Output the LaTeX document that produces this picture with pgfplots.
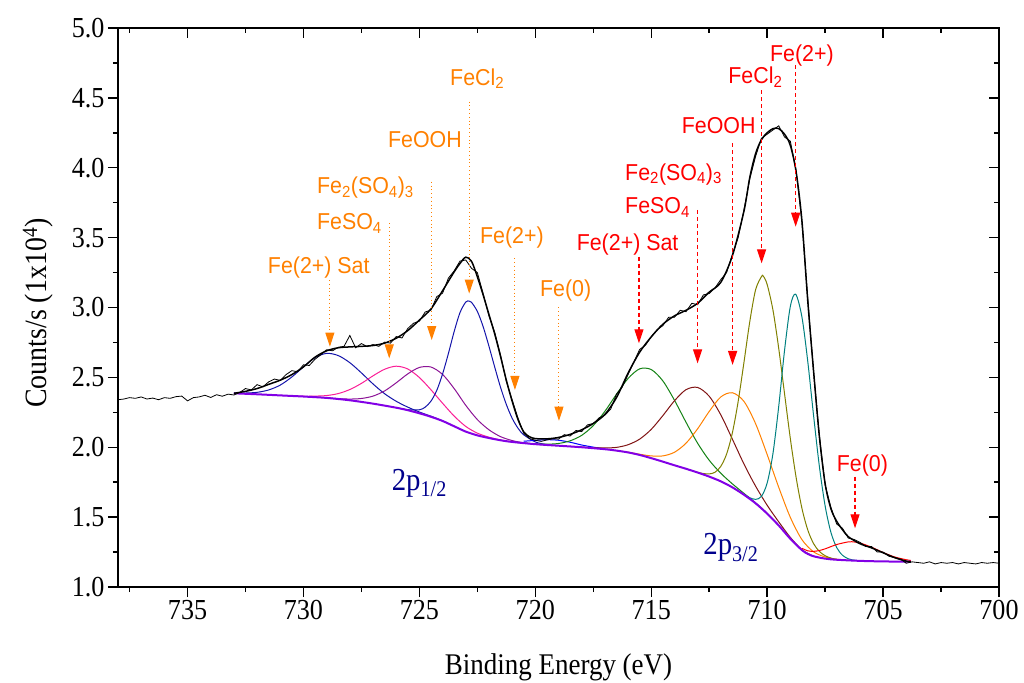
\documentclass[border=0pt]{standalone}
\usepackage{fontspec}
\setmainfont{Liberation Serif}[FakeStretch=0.9]
\newfontfamily\arialf{Liberation Sans}[FakeStretch=0.93]
\usepackage{pgfplots}
\pgfplotsset{compat=1.18}
\usetikzlibrary{arrows.meta}
\definecolor{annOr}{RGB}{255,128,0}
\definecolor{annRed}{RGB}{255,0,0}
\definecolor{cSat}{RGB}{20,20,170}
\definecolor{cPink}{RGB}{250,30,150}
\definecolor{cPurp}{RGB}{140,20,150}
\definecolor{cBlue}{RGB}{20,20,170}
\definecolor{cBlue2}{RGB}{0,0,255}
\definecolor{cGreen}{RGB}{20,130,20}
\definecolor{cBrown}{RGB}{128,20,20}
\definecolor{cOrange}{RGB}{255,128,0}
\definecolor{cOlive}{RGB}{128,128,0}
\definecolor{cTeal}{RGB}{0,128,128}
\definecolor{cRed}{RGB}{255,0,0}
\definecolor{cBg}{RGB}{130,0,230}
\definecolor{cNavy}{RGB}{0,0,140}
\newcommand{\annfont}{\arialf\fontsize{23}{25}\selectfont}
\tikzset{
  oarr/.style={annOr, line width=1pt, dash pattern=on 1pt off 2.8pt, -{Triangle[width=9pt,length=14pt]}},
  rarr/.style={annRed, line width=1.2pt, dash pattern=on 4pt off 3pt, -{Triangle[width=9pt,length=14pt]}},
  olab/.style={text=annOr, anchor=base west, inner sep=0pt, font=\annfont},
  rlab/.style={text=annRed, anchor=base west, inner sep=0pt, font=\annfont},
  comp/.style={line width=1pt, smooth, tension=0.5, no markers},
}
\pgfplotsset{
  commonax/.style={
    at={(118pt,95pt)}, anchor=south west, scale only axis,
    width=881pt, height=559pt,
    xmin=700, xmax=738, ymin=1, ymax=5, x dir=reverse,
    xtick={700,705,...,735}, minor xtick={702.5,707.5,...,737.5},
    ytick={1,1.5,...,5}, minor ytick={1.25,1.75,...,4.75},
    major tick length=10pt, minor tick length=5pt,
    every tick/.style={black, line width=1.4pt},
    axis line style={line width=1.6pt},
  }
}
\begin{document}
\begin{tikzpicture}
\path[use as bounding box] (0,0) rectangle (1024pt,682pt);
\begin{axis}[commonax,
  tick pos=left, tick align=outside,
  /pgf/number format/assume math mode=true,
  tick label style={font=\fontsize{29}{31}\selectfont},
  yticklabel style={/pgf/number format/fixed, /pgf/number format/fixed zerofill, /pgf/number format/precision=1},
  scaled ticks=false,
  xlabel={Binding Energy (eV)},
  ylabel={Counts/s (1x10\textsuperscript{4})},
  xlabel style={font=\fontsize{30}{32}\selectfont, at={(axis description cs:0.5,-0.143)}, anchor=center},
  ylabel style={font=\fontsize{31}{33}\selectfont, at={(axis description cs:-0.091,0.49)}, anchor=center, rotate=0},
  clip=true,
]
% 2p1/2 components
\addplot[comp, cSat] table {
733.0 2.387
732.5 2.388
732.0 2.393
731.5 2.410
731.0 2.445
730.5 2.503
730.0 2.575
729.5 2.641
729.0 2.672
728.5 2.656
728.0 2.605
727.5 2.532
727.0 2.453
726.5 2.383
726.0 2.329
725.5 2.287
725.0 2.252
724.5 2.222
724.0 2.189
723.5 2.150
};
\addplot[comp, cPink] table {
731.0 2.371
730.0 2.365
729.5 2.366
729.0 2.370
728.5 2.384
728.0 2.413
727.5 2.457
727.0 2.511
726.5 2.558
726.0 2.580
725.5 2.560
725.0 2.499
724.5 2.411
724.0 2.315
723.5 2.223
723.0 2.149
722.5 2.101
722.0 2.072
721.5 2.052
721.0 2.038
};
\addplot[comp, cPurp] table {
729.5 2.359
729.0 2.354
728.5 2.348
728.0 2.345
727.5 2.349
727.0 2.366
726.5 2.403
726.0 2.461
725.5 2.525
725.0 2.571
724.5 2.574
724.0 2.521
723.5 2.420
723.0 2.300
722.5 2.198
722.0 2.125
721.5 2.076
721.0 2.048
720.5 2.032
720.0 2.023
719.5 2.016
};
\addplot[comp, cBlue] table {
726.00 2.283
725.50 2.269
725.00 2.268
724.75 2.287
724.50 2.330
724.25 2.407
724.00 2.524
723.75 2.670
723.50 2.828
723.25 2.963
723.00 3.039
722.85 3.046
722.75 3.037
722.50 2.972
722.25 2.863
722.00 2.723
721.75 2.573
721.50 2.429
721.25 2.306
721.00 2.208
720.75 2.137
720.50 2.089
720.00 2.038
719.50 2.019
719.00 2.011
};
\addplot[comp, cBlue2] table {
720.5 2.043
720.0 2.049
719.5 2.054
719.0 2.050
718.5 2.036
718.0 2.016
717.5 2.001
717.0 1.988
};
% 2p3/2 components
\addplot[comp, cGreen] table {
721.0 2.038
720.5 2.030
720.0 2.024
719.5 2.022
719.0 2.027
718.5 2.046
718.0 2.085
717.5 2.155
717.0 2.257
716.5 2.379
716.0 2.492
715.5 2.561
715.0 2.556
714.5 2.475
714.0 2.337
713.5 2.179
713.0 2.029
712.5 1.907
712.0 1.814
711.5 1.738
711.0 1.670
710.5 1.602
710.0 1.526
709.5 1.440
};
\addplot[comp, cBrown] table {
718.5 2.006
718.0 2.001
717.5 1.997
717.0 1.995
716.5 1.999
716.0 2.018
715.5 2.058
715.0 2.128
714.5 2.226
714.0 2.332
713.5 2.412
713.0 2.428
712.5 2.365
712.0 2.232
711.5 2.058
711.0 1.880
710.5 1.722
710.0 1.585
709.5 1.466
709.0 1.355
708.5 1.267
708.0 1.221
707.5 1.203
};
\addplot[comp, cOrange] table {
716.5 1.976
716.0 1.965
715.5 1.950
715.0 1.938
714.5 1.938
714.0 1.964
713.5 2.029
713.0 2.132
712.5 2.256
712.0 2.360
711.5 2.390
711.0 2.328
710.5 2.169
710.0 1.948
709.5 1.713
709.0 1.498
708.5 1.339
708.0 1.252
707.5 1.215
707.0 1.199
706.5 1.190
};
\addplot[comp, cOlive] table {
713.50 1.846
713.00 1.821
712.75 1.812
712.50 1.809
712.25 1.821
712.00 1.863
711.75 1.951
711.50 2.103
711.25 2.328
711.00 2.608
710.75 2.898
710.50 3.126
710.25 3.220
710.17 3.225
710.00 3.165
709.75 2.982
709.50 2.706
709.25 2.383
709.00 2.062
708.75 1.783
708.50 1.563
708.25 1.409
708.00 1.311
707.75 1.255
707.50 1.224
707.25 1.207
707.00 1.197
706.50 1.190
};
\addplot[comp, cTeal] table {
711.50 1.713
711.00 1.662
710.75 1.639
710.50 1.627
710.25 1.648
710.00 1.744
709.75 1.955
709.50 2.294
709.25 2.693
709.00 3.008
708.77 3.095
708.50 2.932
708.25 2.616
708.00 2.230
707.75 1.866
707.50 1.581
707.25 1.391
707.00 1.282
706.75 1.227
706.50 1.202
706.25 1.192
706.00 1.188
};
\addplot[comp, cRed] table {
708.50 1.277
708.25 1.259
708.00 1.255
707.75 1.261
707.50 1.273
707.00 1.304
706.50 1.323
706.35 1.324
706.00 1.315
705.50 1.285
705.00 1.247
704.50 1.215
704.00 1.195
703.80 1.190
};
% background
\addplot[cBg, line width=2pt, smooth, tension=0.5, no markers] table {
733.0 2.386
732.0 2.379
731.0 2.371
730.0 2.363
729.0 2.353
728.0 2.336
727.0 2.312
726.0 2.283
725.5 2.265
725.0 2.243
724.5 2.218
724.0 2.188
723.5 2.150
723.0 2.112
722.5 2.085
722.0 2.066
721.5 2.050
721.0 2.038
720.0 2.022
719.0 2.011
718.0 2.000
717.0 1.986
716.5 1.976
716.0 1.963
715.5 1.945
715.0 1.922
714.5 1.897
714.0 1.871
713.5 1.846
713.0 1.819
712.5 1.790
712.0 1.756
711.5 1.713
711.0 1.660
710.5 1.599
710.0 1.525
709.5 1.440
709.0 1.345
708.5 1.264
708.25 1.237
708.0 1.220
707.5 1.203
707.0 1.195
706.0 1.187
705.0 1.183
703.8 1.181
};
% raw data
\addplot[black, line width=0.8pt, no markers] table {
738.00 2.340
737.75 2.345
737.50 2.355
737.25 2.350
737.00 2.360
736.75 2.345
736.50 2.352
736.25 2.340
736.00 2.355
735.75 2.350
735.50 2.362
735.25 2.366
735.00 2.332
734.75 2.355
734.50 2.360
734.25 2.372
734.00 2.356
733.75 2.376
733.50 2.365
733.25 2.380
733.00 2.374
732.75 2.392
732.50 2.420
732.25 2.410
732.00 2.448
731.75 2.432
731.50 2.468
731.25 2.488
731.00 2.478
730.75 2.520
730.50 2.548
730.25 2.540
730.00 2.590
729.75 2.585
729.50 2.630
729.25 2.662
729.00 2.698
728.75 2.690
728.50 2.715
728.25 2.722
728.00 2.800
727.75 2.712
727.50 2.742
727.25 2.720
727.00 2.735
726.75 2.722
726.50 2.752
726.25 2.745
726.00 2.792
725.75 2.782
725.50 2.850
725.25 2.888
725.00 2.902
724.75 2.968
724.50 2.982
724.25 3.078
724.00 3.102
723.75 3.210
723.50 3.262
723.25 3.332
723.00 3.340
722.75 3.280
722.50 3.250
722.25 3.100
722.00 2.940
721.75 2.822
721.50 2.660
721.25 2.470
721.00 2.340
720.75 2.210
720.50 2.100
720.25 2.062
720.00 2.050
719.75 2.042
719.50 2.052
719.25 2.060
719.00 2.058
718.75 2.090
718.50 2.080
718.25 2.120
718.00 2.112
717.75 2.160
717.50 2.170
717.25 2.210
717.00 2.230
716.75 2.272
716.50 2.380
716.25 2.430
716.00 2.520
715.75 2.610
715.50 2.700
715.25 2.730
715.00 2.790
714.75 2.840
714.50 2.870
714.25 2.930
714.00 2.930
713.75 2.980
713.50 2.970
713.25 3.030
713.00 3.020
712.75 3.090
712.50 3.100
712.25 3.140
712.00 3.200
711.75 3.250
711.50 3.380
711.25 3.500
711.00 3.700
710.75 3.920
710.50 4.080
710.25 4.210
710.00 4.240
709.75 4.270
709.50 4.300
709.25 4.220
709.00 4.190
708.75 3.980
708.50 3.610
708.25 3.070
708.00 2.540
707.75 2.090
707.50 1.730
707.25 1.570
707.00 1.450
706.75 1.420
706.50 1.350
706.25 1.340
706.00 1.320
705.75 1.290
705.50 1.290
705.25 1.250
705.00 1.250
704.75 1.220
704.50 1.210
704.25 1.200
704.00 1.170
703.75 1.180
703.50 1.175
703.25 1.170
703.00 1.180
702.75 1.165
702.50 1.175
702.25 1.170
702.00 1.175
701.75 1.165
701.50 1.175
701.25 1.170
701.00 1.165
700.75 1.175
700.50 1.170
700.25 1.175
700.00 1.170
};
% envelope
\addplot[black, line width=1.5pt, smooth, tension=0.5, no markers] table {
733.0 2.386
732.5 2.40
732.0 2.42
731.5 2.45
731.0 2.48
730.5 2.52
730.0 2.575
729.5 2.645
729.0 2.69
728.5 2.712
728.0 2.718
727.5 2.722
727.0 2.728
726.5 2.745
726.0 2.78
725.5 2.835
725.0 2.91
724.5 2.99
724.0 3.12
723.5 3.255
723.25 3.315
723.0 3.36
722.75 3.33
722.5 3.22
722.25 3.09
722.0 2.95
721.75 2.81
721.5 2.65
721.25 2.48
721.0 2.33
720.75 2.20
720.5 2.11
720.25 2.075
720.0 2.062
719.5 2.06
719.0 2.07
718.5 2.092
718.0 2.125
717.5 2.17
717.0 2.235
716.5 2.355
716.0 2.53
715.5 2.68
715.0 2.79
714.5 2.88
714.0 2.94
713.5 2.98
713.0 3.03
712.5 3.11
712.0 3.18
711.5 3.37
711.0 3.69
710.75 3.93
710.5 4.10
710.25 4.20
710.0 4.25
709.75 4.28
709.5 4.28
709.25 4.24
709.0 4.16
708.75 3.97
708.5 3.62
708.25 3.05
708.0 2.55
707.75 2.08
707.5 1.74
707.25 1.56
707.0 1.47
706.75 1.41
706.5 1.36
706.0 1.31
705.5 1.28
705.0 1.245
704.5 1.21
704.0 1.185
703.8 1.18
};
% orange annotations (2p1/2)
\draw[oarr] (axis cs:728.86,3.197) -- (axis cs:728.86,2.72);
\draw[oarr] (axis cs:726.30,3.602) -- (axis cs:726.30,2.636);
\draw[oarr] (axis cs:724.47,3.90) -- (axis cs:724.47,2.767);
\draw[oarr] (axis cs:722.85,4.473) -- (axis cs:722.85,3.10);
\draw[oarr] (axis cs:720.88,3.352) -- (axis cs:720.88,2.41);
\draw[oarr] (axis cs:718.98,3.00) -- (axis cs:718.98,2.19);
\node[olab] at (axis cs:731.54,3.245) {Fe(2+) Sat};
\node[olab] at (axis cs:729.42,3.555) {FeSO\textsubscript{4}};
\node[olab] at (axis cs:729.42,3.817) {Fe\textsubscript{2}(SO\textsubscript{4})\textsubscript{3}};
\node[olab] at (axis cs:726.36,4.146) {FeOOH};
\node[olab] at (axis cs:723.68,4.592) {FeCl\textsubscript{2}};
\node[olab] at (axis cs:722.39,3.459) {Fe(2+)};
\node[olab] at (axis cs:719.80,3.079) {Fe(0)};
% red annotations (2p3/2)
\draw[rarr] (axis cs:708.77,4.735) -- (axis cs:708.77,3.578);
\draw[rarr] (axis cs:710.24,4.556) -- (axis cs:710.24,3.316);
\draw[rarr] (axis cs:711.49,4.175) -- (axis cs:711.49,2.589);
\draw[rarr] (axis cs:713.00,3.698) -- (axis cs:713.00,2.60);
\draw[rarr] (axis cs:715.53,3.364) -- (axis cs:715.53,2.744);
\draw[rarr] (axis cs:706.21,1.789) -- (axis cs:706.21,1.42);
\node[rlab] at (axis cs:709.88,4.759) {Fe(2+)};
\node[rlab] at (axis cs:711.68,4.604) {FeCl\textsubscript{2}};
\node[rlab] at (axis cs:713.69,4.247) {FeOOH};
\node[rlab] at (axis cs:716.13,3.912) {Fe\textsubscript{2}(SO\textsubscript{4})\textsubscript{3}};
\node[rlab] at (axis cs:716.13,3.674) {FeSO\textsubscript{4}};
\node[rlab] at (axis cs:718.22,3.411) {Fe(2+) Sat};
\node[rlab] at (axis cs:707.00,1.825) {Fe(0)};
% orbital labels
\node[anchor=base west, inner sep=0pt, text=cNavy, font=\fontsize{32}{34}\selectfont] at (axis cs:726.20,1.694) {2p\textsubscript{1/2}};
\node[anchor=base west, inner sep=0pt, text=cNavy, font=\fontsize{32}{34}\selectfont] at (axis cs:712.76,1.229) {2p\textsubscript{3/2}};
\end{axis}
\begin{axis}[commonax,
  tick pos=right, tick align=inside,
  xticklabels={}, yticklabels={},
  tick label style={opacity=0},
]
\end{axis}
\end{tikzpicture}
\end{document}
